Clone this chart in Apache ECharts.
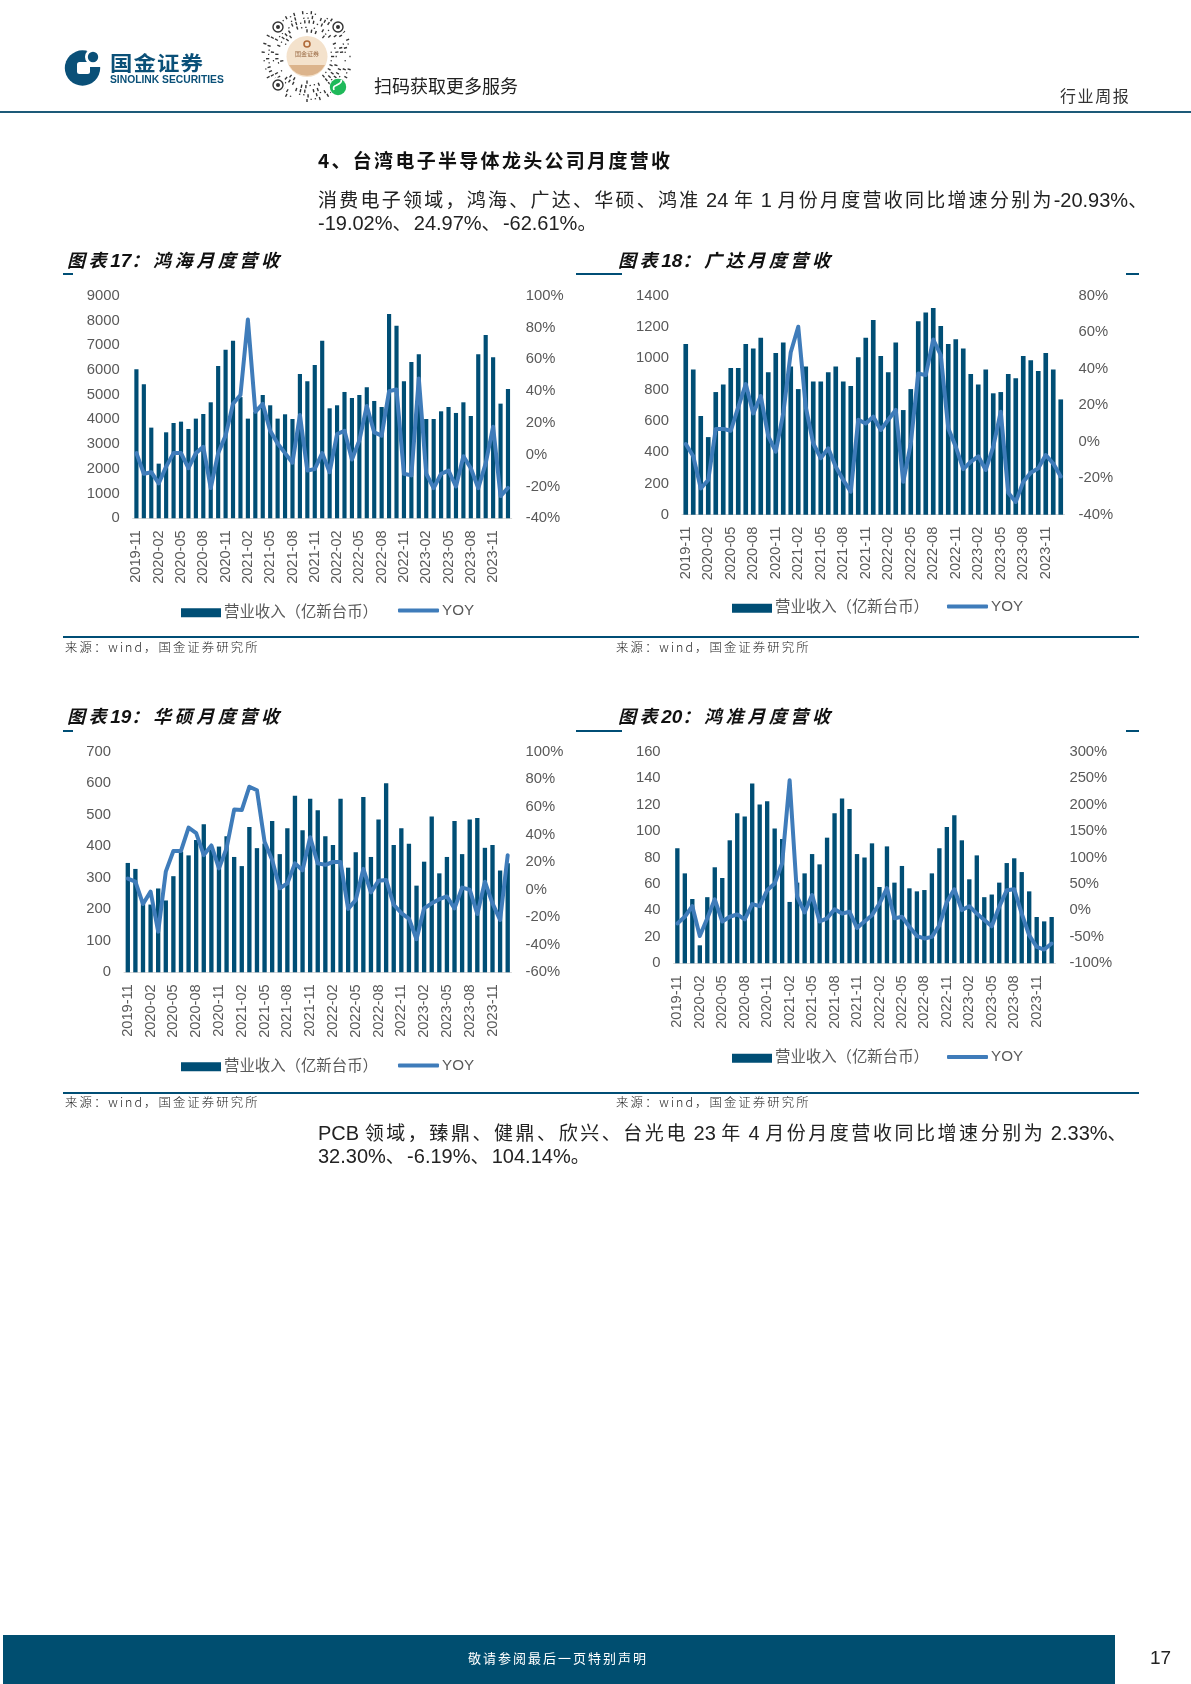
<!DOCTYPE html>
<html><head><meta charset="utf-8">
<script src="https://cdn.jsdelivr.net/npm/echarts@6/dist/echarts.min.js"></script>
<style>
html,body{margin:0;padding:0;background:#fff}
#page{position:relative;width:1191px;height:1684px;overflow:hidden;background:#fff;font-family:"Liberation Sans","Noto Sans CJK SC",sans-serif;color:#222}
.t{position:absolute;white-space:pre;line-height:1}
.r{position:absolute;background:#004e75}
.c{position:absolute;left:0;top:0;width:1191px;height:1684px}
.title{font-family:"Noto Sans CJK SC";font-weight:700;font-style:italic;font-size:18px;letter-spacing:3.6px;color:#111}
.title b{font-family:"Liberation Sans";font-size:19px;letter-spacing:0;font-weight:700}
.src{font-family:"Noto Sans CJK SC";font-weight:300;font-size:12.4px;letter-spacing:2.05px;color:#222}
.body{font-family:"Liberation Sans";font-size:20px;color:#222}
.body i{font-family:"Noto Sans CJK SC";font-style:normal;font-size:19px;letter-spacing:2.25px;font-weight:400}
.body.w i{letter-spacing:2.55px}
</style></head><body>
<div id="page">
<div class="c" id="chart"></div>

<svg style="position:absolute;left:60px;top:45px" width="45" height="45" viewBox="0 0 45 45">
<circle cx="22.5" cy="23" r="17.7" fill="#0a5078"/>
<circle cx="33" cy="12" r="8" fill="#fff"/>
<rect x="17" y="17" width="13" height="12" rx="2.5" fill="#fff"/>
<rect x="28" y="17" width="13" height="5" fill="#fff"/>
<circle cx="33" cy="12" r="5.2" fill="#0a5078"/>
</svg>
<div class="t" style="left:110px;top:53px;font-family:'Noto Sans CJK SC';font-weight:700;font-size:20px;letter-spacing:1px;color:#0a5078;transform:scaleX(1.12);transform-origin:0 0">国金证券</div>
<div class="t" style="left:110px;top:75px;font-family:'Liberation Sans';font-weight:700;font-size:10.3px;color:#0a5078">SINOLINK SECURITIES</div>
<svg id="qr" style="position:absolute;left:258px;top:7px" width="100" height="98" viewBox="0 0 100 98"></svg>
<div class="t" style="left:374px;top:76px;font-family:'Noto Sans CJK SC';font-size:18px;color:#222">扫码获取更多服务</div>
<div class="t" style="left:1060px;top:87px;font-family:'Noto Sans CJK SC';font-size:16px;letter-spacing:1.6px;color:#333">行业周报</div>
<div class="r" style="left:0;top:110.5px;width:1191px;height:2px;background:#1d5a78"></div>

<div class="t" style="left:318px;top:150px;font-family:'Noto Sans CJK SC';font-weight:700;font-size:19px;letter-spacing:2.3px;color:#111">4、台湾电子半导体龙头公司月度营收</div>
<div class="t body" style="left:318px;top:189px"><i>消费电子领域，鸿海、广达、华硕、鸿准</i> 24 <i>年</i> 1 <i>月份月度营收同比增速分别为</i>-20.93%<i>、</i></div>
<div class="t body" style="left:318px;top:212px">-19.02%<i>、</i>24.97%<i>、</i>-62.61%<i>。</i></div>

<div class="t title" style="left:67px;top:250px">图表<b>17</b>：鸿海月度营收</div>
<div class="t title" style="left:618px;top:250px">图表<b>18</b>：广达月度营收</div>
<div class="t title" style="left:67px;top:706px">图表<b>19</b>：华硕月度营收</div>
<div class="t title" style="left:618px;top:706px">图表<b>20</b>：鸿准月度营收</div>
<div class="r" style="left:63px;top:273px;width:10px;height:2px"></div>
<div class="r" style="left:576px;top:273px;width:46px;height:2px"></div>
<div class="r" style="left:1126px;top:273px;width:13px;height:2px"></div>
<div class="r" style="left:63px;top:730px;width:10px;height:2px"></div>
<div class="r" style="left:576px;top:730px;width:46px;height:2px"></div>
<div class="r" style="left:1126px;top:730px;width:13px;height:2px"></div>
<div class="r" style="left:63px;top:636px;width:1076px;height:2px"></div>
<div class="r" style="left:63px;top:1092px;width:1076px;height:2px"></div>
<div class="t src" style="left:65px;top:641px">来源：wind，国金证券研究所</div>
<div class="t src" style="left:616px;top:641px">来源：wind，国金证券研究所</div>
<div class="t src" style="left:65px;top:1096px">来源：wind，国金证券研究所</div>
<div class="t src" style="left:616px;top:1096px">来源：wind，国金证券研究所</div>

<div class="t body w" style="left:318px;top:1122px">PCB <i>领域，臻鼎、健鼎、欣兴、台光电</i> 23 <i>年</i> 4 <i>月份月度营收同比增速分别为</i> 2.33%<i>、</i></div>
<div class="t body" style="left:318px;top:1145px">32.30%<i>、</i>-6.19%<i>、</i>104.14%<i>。</i></div>

<div class="r" style="left:3px;top:1635px;width:1112px;height:49px;background:#004e70"></div>
<div class="t" style="left:468px;top:1651px;font-family:'Noto Sans CJK SC';font-size:13px;letter-spacing:2px;color:#fff">敬请参阅最后一页特别声明</div>
<div class="t" style="left:1150px;top:1648px;font-size:19px;color:#222">17</div>
</div>
<script>
const months = ["2019-11","2019-12","2020-01","2020-02","2020-03","2020-04","2020-05","2020-06","2020-07","2020-08","2020-09","2020-10","2020-11","2020-12","2021-01","2021-02","2021-03","2021-04","2021-05","2021-06","2021-07","2021-08","2021-09","2021-10","2021-11","2021-12","2022-01","2022-02","2022-03","2022-04","2022-05","2022-06","2022-07","2022-08","2022-09","2022-10","2022-11","2022-12","2023-01","2023-02","2023-03","2023-04","2023-05","2023-06","2023-07","2023-08","2023-09","2023-10","2023-11","2023-12","2024-01"];

const hhRevenue = [6024,5418,3666,2210,3477,3854,3908,3612,4030,4218,4690,6159,6819,7183,4900,4030,4300,4986,4569,4030,4205,4016,5836,5539,6200,7183,4447,4569,5108,4865,4986,5296,4744,4501,8261,7790,5539,6321,6631,4016,4016,4326,4501,4259,4690,4137,6631,7412,6509,4636,5229];
const hhYoy = [1,-12,-11,-18,-7.5,1,1,-8.5,1,5,-21,1,12,32,37.5,85,27,32,15,7,1,-5,25,-10,-9,1,-11,13,15,-3,9,30.6,14,12,40,41,-12,-13,48,-12,-21,-12,-10,-20,-1,-8.5,-21,-5.5,17.6,-26,-20.93];

const qdRevenue = [1091,929,631,496,784,833,938,938,1091,1063,1131,910,1033,1101,948,803,948,852,852,910,948,852,822,1006,1131,1244,1014,910,1101,669,803,1236,1293,1321,1206,1091,1121,1063,899,833,929,776,784,899,872,1014,987,918,1033,929,737];
const qdYoy = [-1.3,-8,-25.6,-21,7,7,6,19,31.6,15.5,25,3,-5.5,15.5,49,63,19,-1,-9,-3.6,-13.7,-21,-27.4,12,10,13.7,6.4,12,17.4,-22,-1,37.4,36.5,56,47.5,7.3,-2.7,-15,-11,-8,-15.5,-2.7,16.4,-28,-33,-22,-17,-14.6,-7.3,-12,-19.02];

const hsRevenue = [347,328,225,215,266,228,305,383,371,420,470,393,399,432,366,337,461,394,409,480,375,457,560,451,551,514,432,404,551,332,381,556,366,485,600,404,457,408,275,351,494,314,366,480,375,485,490,395,404,323,346];
const hsYoy = [8,5.7,-10.5,-1.5,-30.5,13,28,28,45,41,25,32,15.4,30,58,57.7,74.6,72,34.7,21.4,1,4.5,19,14,38,19,18,20,20,-14,-7.6,15,-2,6.4,7,-11,-17,-21,-36,-13.6,-10,-7,-5,-13.6,1.4,0,-17.7,5.7,-10,-22,24.97];

const hzRevenue = [87,68,48.6,13.6,50,72.6,64.5,93,113.4,111,136,120,122.5,102,94,46.4,61,68,82.6,74.8,95,113.4,124.7,116.7,82.6,80,90.7,57.7,88.4,61,73.6,56.7,54.4,55.4,68,87,103,112,93,63.5,81.6,50,52,61,75.8,79.4,69,54.4,35,31.7,35];
const hzYoy = [-24.6,-12,8,-48.5,-15,21,-21,-12,-7.6,-17,12,8,38,51,89,246,26,-4,29,-21,-15,2,-6,-2.5,-33,-21,-9,13,42,-15,-12,-31,-48.5,-53,-50,-28,16,40,0.6,8,-6,-18,-30,7,38,40,-6,-47,-69,-74,-62.61];

const revenueName = "营业收入（亿新台币）";
const yoyName = "YOY";
const TEXT = "#595959", BAR = "#004e75", LINE = "#3f7cba";
const FONT = '"Liberation Sans","Noto Sans CJK SC",sans-serif';

const panels = [
 {rev:hhRevenue,yoy:hhYoy,l:132.7,r:511.7,t:295.7,b:518.3,lm:[0,9000,1000],rm:[-40,100,20],bw:'56%',legBar:[181,605],legLine:[398,603]},
 {rev:qdRevenue,yoy:qdYoy,l:682,r:1064.5,t:295.7,b:514.7,lm:[0,1400,200],rm:[-40,80,20],bw:'62%',legBar:[732,600.5],legLine:[947,599]},
 {rev:hsRevenue,yoy:hsYoy,l:124,r:511.5,t:751.7,b:972.3,lm:[0,700,100],rm:[-60,100,20],bw:'57%',legBar:[181,1059],legLine:[398,1058]},
 {rev:hzRevenue,yoy:hzYoy,l:673.6,r:1055.4,t:751.7,b:963.3,lm:[0,160,20],rm:[-100,300,50],bw:'58%',legBar:[732,1050.5],legLine:[947,1049.5]}
];
const grid=[],xAxis=[],yAxis=[],series=[],legend=[];
panels.forEach((p,i)=>{
  grid.push({left:p.l,top:p.t,width:p.r-p.l,height:p.b-p.t,containLabel:false});
  xAxis.push({type:'category',gridIndex:i,data:months,
    axisTick:{show:false},axisLine:{lineStyle:{color:'#d9d9d9',width:1}},
    axisLabel:{interval:2,rotate:90,margin:12,color:TEXT,fontSize:14.6,fontFamily:FONT}});
  const lab={color:TEXT,fontSize:14.8,fontFamily:FONT,padding:[4,0,0,0]};
  yAxis.push({type:'value',gridIndex:i,position:'left',min:p.lm[0],max:p.lm[1],interval:p.lm[2],
    splitLine:{show:false},axisLine:{show:false},axisTick:{show:false},axisLabel:Object.assign({margin:13,formatter:v=>String(v)},lab)});
  yAxis.push({type:'value',gridIndex:i,position:'right',min:p.rm[0],max:p.rm[1],interval:p.rm[2],
    splitLine:{show:false},axisLine:{show:false},axisTick:{show:false},axisLabel:Object.assign({margin:14,formatter:'{value}%'},lab)});
  series.push({name:revenueName,type:'bar',xAxisIndex:i,yAxisIndex:i*2,data:p.rev,barWidth:p.bw,itemStyle:{color:BAR},animation:false});
  series.push({name:yoyName,type:'line',xAxisIndex:i,yAxisIndex:i*2+1,data:p.yoy,symbol:'none',z:5,
    lineStyle:{color:LINE,width:4,join:'round',cap:'round'},itemStyle:{color:LINE},animation:false});
  legend.push({left:p.legBar[0],top:p.legBar[1],itemWidth:40,itemHeight:9,selectedMode:false,padding:0,
    data:[{name:revenueName,icon:'rect'}],
    textStyle:{color:TEXT,fontSize:15.4,fontFamily:FONT,padding:[2,0,0,-2]}});
  legend.push({left:p.legLine[0],top:p.legLine[1],itemWidth:41,itemHeight:4,selectedMode:false,padding:0,
    data:[{name:yoyName,icon:'roundRect',itemStyle:{color:LINE}}],
    textStyle:{color:TEXT,fontSize:15.2,fontFamily:FONT,padding:[0,0,0,-2]}});
});
const chart=echarts.init(document.getElementById('chart'),null,{renderer:'canvas',width:1191,height:1684});
chart.setOption({animation:false,backgroundColor:'transparent',grid,xAxis,yAxis,series,legend});

/* decorative mini-program code */
const svg=document.getElementById('qr');
const NS='http://www.w3.org/2000/svg';
const pat="1011011101001101110010110101110100101101110110010111010110100111";
function add(n,a,txt){const e=document.createElementNS(NS,n);for(const k in a)e.setAttribute(k,a[k]);if(txt)e.textContent=txt;svg.appendChild(e);return e;}
const CX=49,CY=49.5;
for(let ring=0;ring<5;ring++){
  const rad=24+ring*4.6, cnt=Math.round(rad*1.5);
  for(let k=0;k<cnt;k++){
    if(pat[(k*(ring+3)+ring*7)%pat.length]==='0')continue;
    const a=k/cnt*Math.PI*2, len=1.2+(+pat[(k+ring)%pat.length])*2;
    add('line',{x1:CX+Math.cos(a)*rad,y1:CY+Math.sin(a)*rad,x2:CX+Math.cos(a)*(rad+len),y2:CY+Math.sin(a)*(rad+len),stroke:'#333','stroke-width':1.4});
  }
}
[[20,20],[80,20],[20,78]].forEach(q=>{
  add('circle',{cx:q[0],cy:q[1],r:7.5,fill:'#fff'});
  add('circle',{cx:q[0],cy:q[1],r:5,fill:'none',stroke:'#333','stroke-width':1.4});
  add('circle',{cx:q[0],cy:q[1],r:2,fill:'#333'});
});
add('circle',{cx:CX,cy:CY,r:20.5,fill:'#f4e2cc'});
add('path',{d:'M31 58 A20.5 20.5 0 0 0 67 58 Z',fill:'#dcb48c'});
add('circle',{cx:CX,cy:37,r:3,fill:'none',stroke:'#b06a3a','stroke-width':1.6});
add('text',{x:CX,y:49,'font-size':6,'text-anchor':'middle',fill:'#9a6a44','font-family':'Noto Sans CJK SC'},'国金证券');
add('circle',{cx:80,cy:80,r:9,fill:'#fff'});
add('circle',{cx:80,cy:80,r:8.2,fill:'#1fb95a'});
add('path',{d:'M76 83 q-1.5 -3.5 2 -4.5 l3.5 -2 q2.5 -1.5 1.5 -3.5',fill:'none',stroke:'#fff','stroke-width':1.7});
</script>
</body></html>
